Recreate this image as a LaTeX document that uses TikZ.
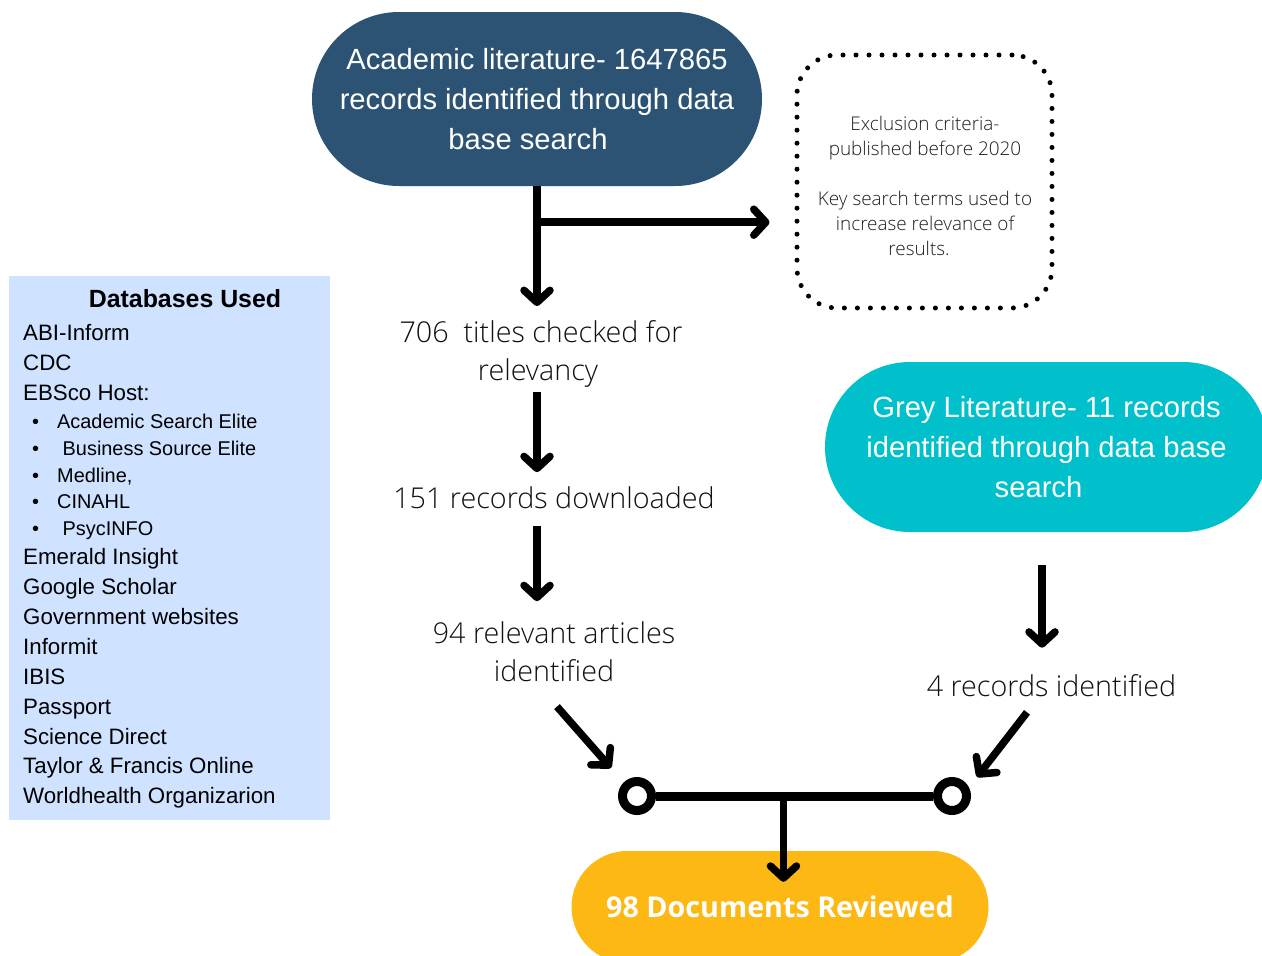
\documentclass[tikz,border=0pt]{standalone}
\usepackage{fontspec}
\setmainfont{Liberation Sans}
\newfontfamily\oslight{Open Sans Light}
\newfontfamily\osans{Open Sans}
\usetikzlibrary{arrows.meta,calc}

\definecolor{acadblue}{HTML}{2C5373}
\definecolor{greyteal}{HTML}{00C1CB}
\definecolor{docgold}{HTML}{FDB813}
\definecolor{dbblue}{HTML}{CFE2FF}
\definecolor{labelgrey}{HTML}{111111}
\definecolor{notegrey}{HTML}{1E1E1E}

\begin{document}
\begin{tikzpicture}[x=1pt,y=-1pt,
  pill/.style={inner sep=0pt, align=center, text=white},
  stagetext/.style={font=\oslight\fontsize{28.7}{38}\selectfont, text=labelgrey,
    align=center, inner sep=0pt},
  dbitem/.style={anchor=base west, inner sep=0pt, text=black,
    font=\fontsize{22.3}{26}\selectfont},
  dbsub/.style={anchor=base west, inner sep=0pt, text=black,
    font=\fontsize{19.9}{24}\selectfont},
  flow/.style={line width=7.5pt, -{Straight Barb[length=12pt,width=26pt,round]}},
  ring/.style={circle, draw=black, line width=9pt, fill=white,
    minimum size=29pt, inner sep=0pt}]

\fill[white] (0,0) rectangle (1262,956);
\useasboundingbox (0,0) rectangle (1262,956);

% source pills
\node[pill, fill=acadblue, minimum width=450pt, minimum height=174pt,
      rounded corners=87pt, font=\fontsize{29.2}{40}\selectfont]
  (top) at (537,99)
  {Academic literature- 1647865\\records identified through data\\base search\hspace*{18pt}};

\node[pill, fill=greyteal, minimum width=443pt, minimum height=170pt,
      rounded corners=85pt, font=\fontsize{29.2}{40}\selectfont]
  (grey) at (1046.5,447)
  {Grey Literature- 11 records\\identified through data base\\search\hspace*{16pt}};

% result pill
\node[pill, fill=docgold, minimum width=417pt, minimum height=112pt,
      rounded corners=56pt, font=\osans\bfseries\fontsize{28.7}{34}\selectfont]
  (docs) at (780,907) {98 Documents Reviewed};

% exclusion note
\node[draw=black, line width=5pt, dash pattern=on 0pt off 13pt, line cap=round,
      rounded corners=40pt, minimum width=255pt, minimum height=253pt, inner sep=0pt]
  (excl) at (924.5,181.5) {};
\node[font=\oslight\fontsize{18.9}{25}\selectfont, text=notegrey, align=center, inner sep=0pt]
  (excltext) at (925,185.5)
  {Exclusion criteria-\\published before 2020\\[25pt]Key search terms used to\\increase relevance of\\results.\hspace*{12pt}};

% stage labels
\node[stagetext] (n706) at (541,353.7) {706\ \ titles checked for\\relevancy\hspace*{6pt}};
\node[stagetext] (n151) at (554,497.4) {151 records downloaded};
\node[stagetext] (n94) at (554,651.4) {94 relevant articles\\identified};
\node[stagetext] (n4) at (1051.5,686) {4 records identified};

% database list
\node[fill=dbblue, minimum width=321pt, minimum height=544pt, inner sep=0pt,
      anchor=north west] (dbbox) at (9,276) {};
\node[anchor=base, inner sep=0pt, font=\bfseries\fontsize{24.9}{28}\selectfont]
  (dbtitle) at (185,307) {Databases Used};
\foreach \txt/\yy [count=\k] in {{ABI-Inform}/340, {CDC}/370, {EBSco Host:}/400,
    {Emerald Insight}/564, {Google Scholar}/594, {Government websites}/624,
    {Informit}/654, {IBIS}/684, {Passport}/714, {Science Direct}/744,
    {Taylor \& Francis Online}/773, {Worldhealth Organizarion}/803}
  \node[dbitem] (db\k) at (23,\yy) {\txt};
\foreach \txt/\yy [count=\k] in {{Academic Search Elite}/428,
    {\ Business Source Elite}/455, {Medline,}/482, {CINAHL}/508, {\ PsycINFO}/535}
  \node[dbsub] (sub\k) at (32,\yy) {\makebox[25pt][l]{•}\txt};

% main flow
\draw[flow] (top.south) -- ([yshift=14pt] top.south |- n706.north);
\coordinate (br) at ($(top.south)+(0,36)$);
\draw[flow] (br) -- ([xshift=-25pt] br -| excl.west);
\draw[flow] ([yshift=-5pt] top.south |- n706.south) -- ([yshift=14pt] top.south |- n151.north);
\draw[flow] ([yshift=-17pt] top.south |- n151.south) -- ([yshift=20pt] top.south |- n94.north);
\draw[flow] ([xshift=-4.5pt,yshift=-33pt] grey.south) -- ([xshift=-4.5pt,yshift=27pt] grey.south |- n4.north);

% merge junction
\node[ring] (jl) at (637,796) {};
\node[ring] (jr) at (952,796) {};
\draw[line width=9pt] (jl) -- (jr);

\coordinate (a94) at ($(n94.south)+(3,25)$);
\coordinate (tip94) at ($(jl)+(-26,-28)$);
\draw[flow] (a94) -- (tip94);
\coordinate (a4) at ($(n4.south)+(-24.5,15)$);
\coordinate (tip4) at ($(jr)+(25,-19)$);
\draw[flow] (a4) -- (tip4);

\coordinate (jm) at ($(jl)!0.465!(jr)$);
\draw[flow] (jm) -- ([yshift=-31pt] jm |- docs.north);
\end{tikzpicture}
\end{document}
